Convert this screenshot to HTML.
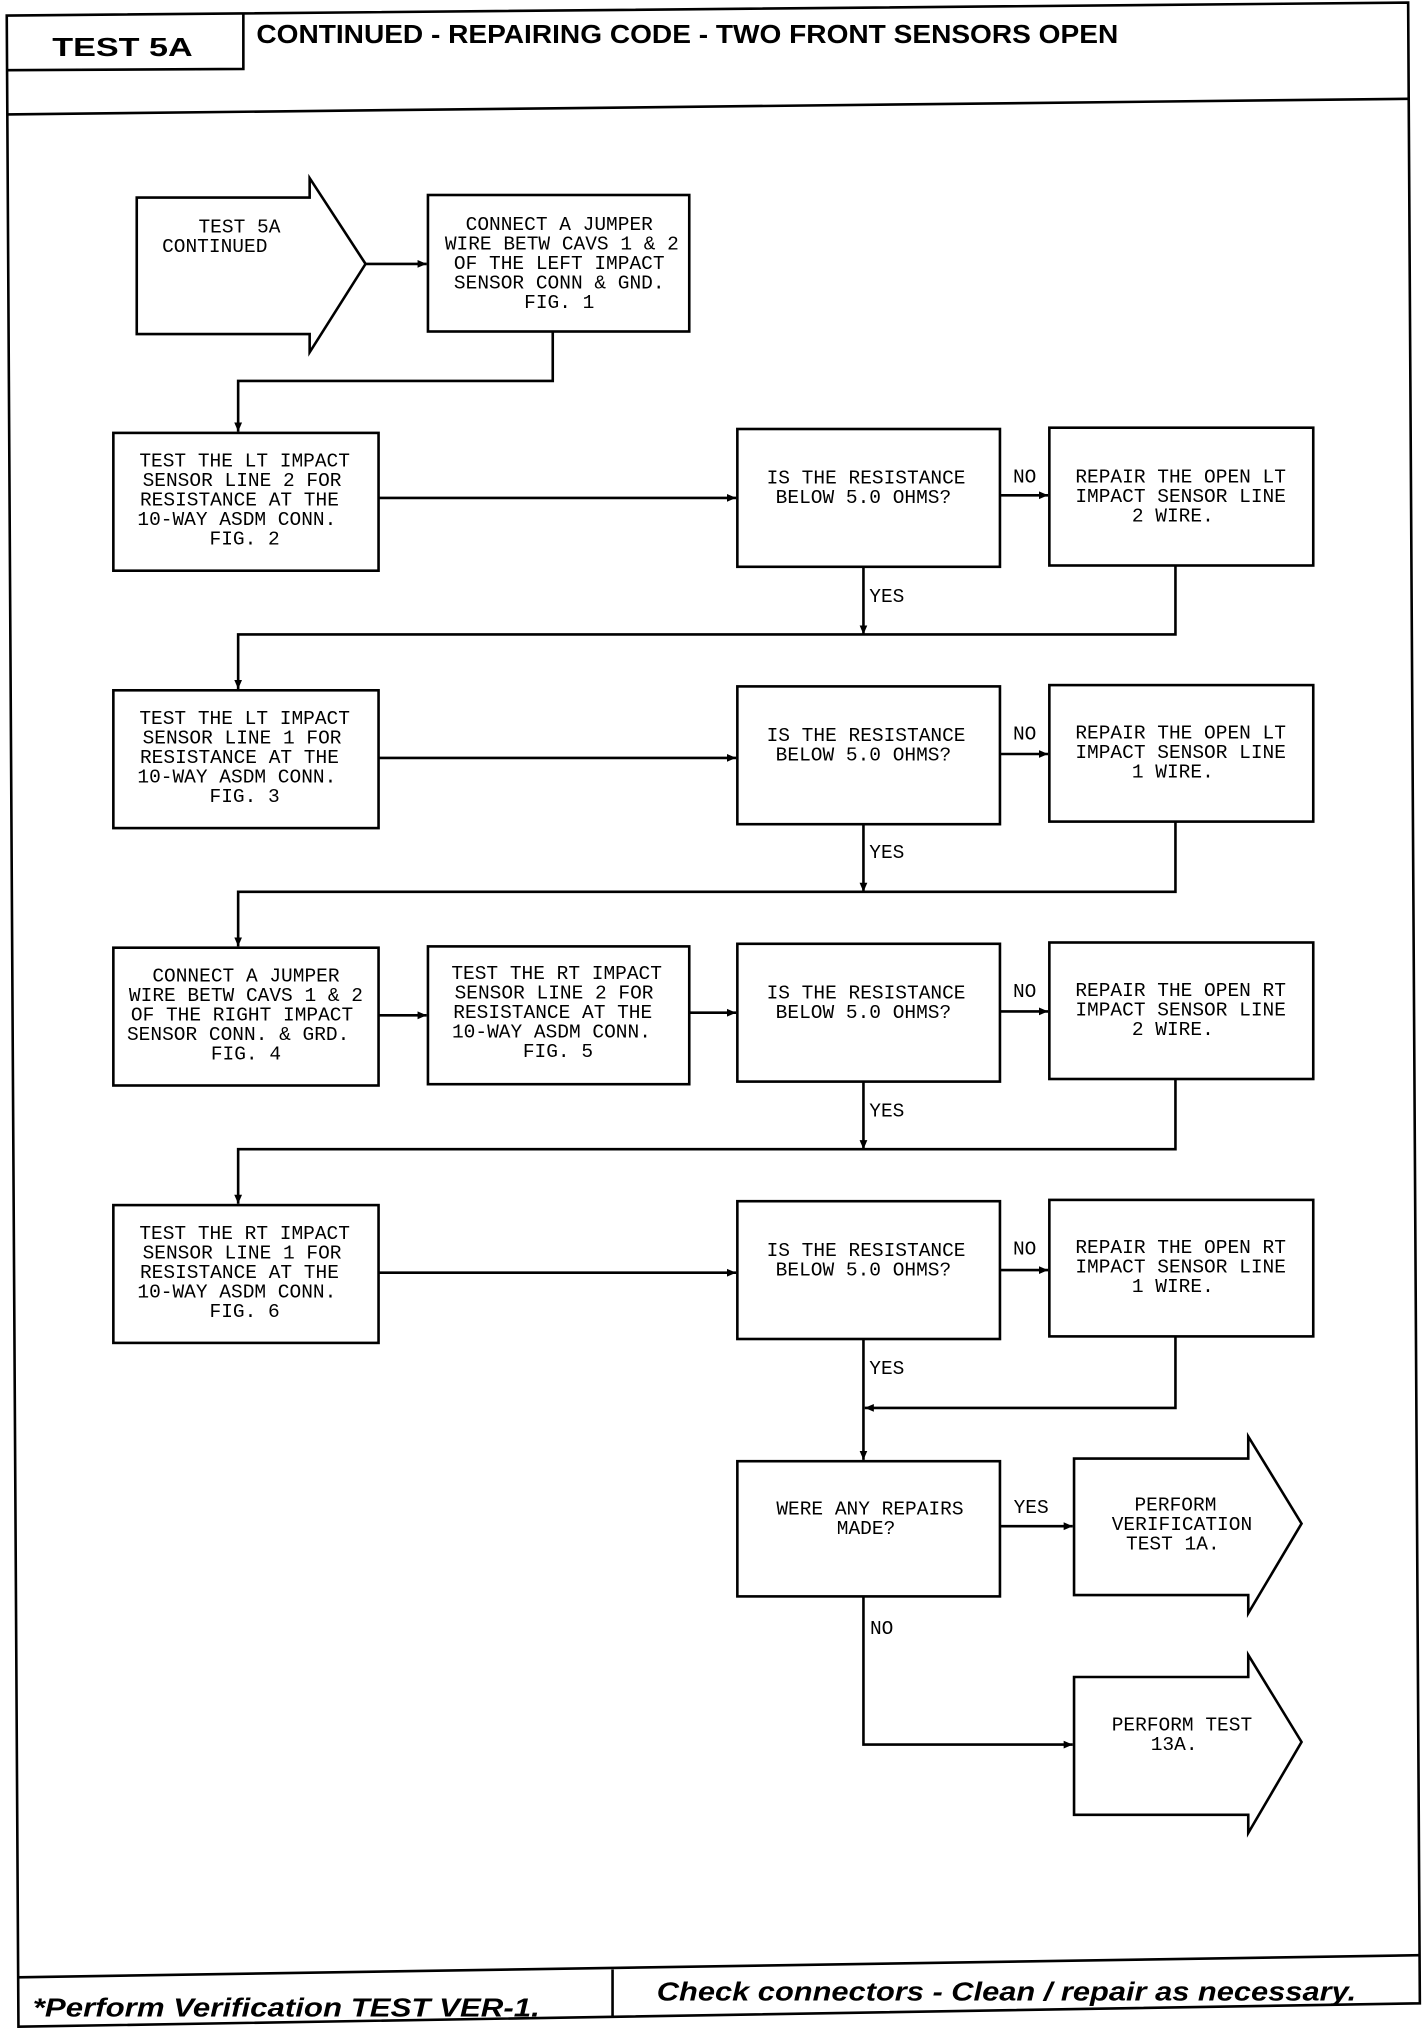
<!DOCTYPE html>
<html><head><meta charset="utf-8"><style>
html,body{margin:0;padding:0;background:#fff;}
svg{display:block}
text{font-family:"Liberation Mono",monospace;font-size:15px;fill:#000;text-anchor:middle}
.h{font-family:"Liberation Sans",sans-serif;font-weight:bold;text-anchor:start}
.f{font-family:"Liberation Sans",sans-serif;font-weight:bold;font-style:italic;text-anchor:start}
</style></head><body>
<svg width="1424" height="2028" viewBox="0 0 1095 1560" xmlns="http://www.w3.org/2000/svg">
<defs><marker id="a" markerWidth="8" markerHeight="8" refX="7" refY="4" orient="auto" markerUnits="userSpaceOnUse"><path d="M0,1 L7,4 L0,7 z" fill="#000"/></marker></defs>
<g stroke="#000" stroke-width="2" fill="none">
<polygon points="5,12 1083,2 1092,1541 14,1559"/>
<line x1="5" y1="88" x2="1083" y2="76"/>
<polyline points="187,11 187,53 5,54"/>
<line x1="14" y1="1521" x2="1092" y2="1504"/>
<line x1="471" y1="1515" x2="471" y2="1552"/>
</g>
<text class="h" transform="translate(40,43) scale(1,1.35)" font-size="22" textLength="108" lengthAdjust="spacingAndGlyphs">TEST 5A</text>
<text class="h" transform="translate(197,33) scale(1,1.35)" font-size="18" textLength="663" lengthAdjust="spacingAndGlyphs">CONTINUED - REPAIRING CODE - TWO FRONT SENSORS OPEN</text>
<text class="f" transform="translate(25,1551) scale(1,1.35)" font-size="19" textLength="390" lengthAdjust="spacingAndGlyphs">*Perform Verification TEST VER-1.</text>
<text class="f" transform="translate(505,1539) scale(1,1.35)" font-size="19" textLength="538" lengthAdjust="spacingAndGlyphs">Check connectors - Clean / repair as necessary.</text>

<g stroke="#000" stroke-width="2" fill="#fff">
<polygon points="105,152 238,152 238,137 281,203 238,271 238,257 105,257"/>
<rect x="329" y="150" width="201" height="105"/>
<rect x="87" y="333" width="204" height="106"/>
<rect x="567" y="330" width="202" height="106"/>
<rect x="807" y="329" width="203" height="106"/>
<rect x="87" y="531" width="204" height="106"/>
<rect x="567" y="528" width="202" height="106"/>
<rect x="807" y="527" width="203" height="105"/>
<rect x="87" y="729" width="204" height="106"/>
<rect x="329" y="728" width="201" height="106"/>
<rect x="567" y="726" width="202" height="106"/>
<rect x="807" y="725" width="203" height="105"/>
<rect x="87" y="927" width="204" height="106"/>
<rect x="567" y="924" width="202" height="106"/>
<rect x="807" y="923" width="203" height="105"/>
<rect x="567" y="1124" width="202" height="104"/>
<polygon points="826,1122 960,1122 960,1105 1001,1172 960,1241 960,1227 826,1227"/>
<polygon points="826,1290 960,1290 960,1273 1001,1340 960,1410 960,1396 826,1396"/>
</g>
<g stroke="#000" stroke-width="2" fill="none" marker-end="url(#a)">
<line x1="281" y1="203" x2="328" y2="203"/>
<polyline points="425,255 425,293 183,293 183,332"/>
<line x1="291" y1="383" x2="566" y2="383"/>
<line x1="769" y1="381" x2="806" y2="381"/>
<line x1="664" y1="436" x2="664" y2="488"/>
<polyline points="904,435 904,488 183,488 183,530"/>
<line x1="291" y1="583" x2="566" y2="583"/>
<line x1="769" y1="580" x2="806" y2="580"/>
<line x1="664" y1="634" x2="664" y2="686"/>
<polyline points="904,632 904,686 183,686 183,728"/>
<line x1="291" y1="781" x2="328" y2="781"/>
<line x1="530" y1="779" x2="566" y2="779"/>
<line x1="769" y1="778" x2="806" y2="778"/>
<line x1="664" y1="832" x2="664" y2="884"/>
<polyline points="904,830 904,884 183,884 183,926"/>
<line x1="291" y1="979" x2="566" y2="979"/>
<line x1="769" y1="977" x2="806" y2="977"/>
<polyline points="904,1028 904,1083 665,1083"/>
<line x1="664" y1="1030" x2="664" y2="1123"/>
<line x1="769" y1="1174" x2="825" y2="1174"/>
<polyline points="664,1228 664,1342 825,1342"/>
</g>
<text x="184" y="179">TEST 5A</text><text x="165" y="194">CONTINUED</text>
<text x="430" y="177">CONNECT A JUMPER</text><text x="432" y="192">WIRE BETW CAVS 1 &amp; 2</text><text x="430" y="207">OF THE LEFT IMPACT</text><text x="430" y="222">SENSOR CONN &amp; GND.</text><text x="430" y="237">FIG. 1</text>
<g>
<text x="188" y="359">TEST THE LT IMPACT</text><text x="186" y="374">SENSOR LINE 2 FOR</text><text x="184" y="389">RESISTANCE AT THE</text><text x="182" y="404">10-WAY ASDM CONN.</text><text x="188" y="419">FIG. 2</text>
<text x="666" y="372">IS THE RESISTANCE</text><text x="664" y="387">BELOW 5.0 OHMS?</text>
<text x="908" y="371">REPAIR THE OPEN LT</text><text x="908" y="386">IMPACT SENSOR LINE</text><text x="902" y="401">2 WIRE.</text>
<text x="788" y="371">NO</text><text x="682" y="463">YES</text>
</g>
<g>
<text x="188" y="557">TEST THE LT IMPACT</text><text x="186" y="572">SENSOR LINE 1 FOR</text><text x="184" y="587">RESISTANCE AT THE</text><text x="182" y="602">10-WAY ASDM CONN.</text><text x="188" y="617">FIG. 3</text>
<text x="666" y="570">IS THE RESISTANCE</text><text x="664" y="585">BELOW 5.0 OHMS?</text>
<text x="908" y="568">REPAIR THE OPEN LT</text><text x="908" y="583">IMPACT SENSOR LINE</text><text x="902" y="598">1 WIRE.</text>
<text x="788" y="569">NO</text><text x="682" y="660">YES</text>
</g>
<g>
<text x="189" y="755">CONNECT A JUMPER</text><text x="189" y="770">WIRE BETW CAVS 1 &amp; 2</text><text x="186" y="785">OF THE RIGHT IMPACT</text><text x="183" y="800">SENSOR CONN. &amp; GRD.</text><text x="189" y="815">FIG. 4</text>
<text x="428" y="753">TEST THE RT IMPACT</text><text x="426" y="768">SENSOR LINE 2 FOR</text><text x="425" y="783">RESISTANCE AT THE</text><text x="424" y="798">10-WAY ASDM CONN.</text><text x="429" y="813">FIG. 5</text>
<text x="666" y="768">IS THE RESISTANCE</text><text x="664" y="783">BELOW 5.0 OHMS?</text>
<text x="908" y="766">REPAIR THE OPEN RT</text><text x="908" y="781">IMPACT SENSOR LINE</text><text x="902" y="796">2 WIRE.</text>
<text x="788" y="767">NO</text><text x="682" y="859">YES</text>
</g>
<g>
<text x="188" y="953">TEST THE RT IMPACT</text><text x="186" y="968">SENSOR LINE 1 FOR</text><text x="184" y="983">RESISTANCE AT THE</text><text x="182" y="998">10-WAY ASDM CONN.</text><text x="188" y="1013">FIG. 6</text>
<text x="666" y="966">IS THE RESISTANCE</text><text x="664" y="981">BELOW 5.0 OHMS?</text>
<text x="908" y="964">REPAIR THE OPEN RT</text><text x="908" y="979">IMPACT SENSOR LINE</text><text x="902" y="994">1 WIRE.</text>
<text x="788" y="965">NO</text><text x="682" y="1057">YES</text>
</g>
<text x="669" y="1165">WERE ANY REPAIRS</text><text x="666" y="1180">MADE?</text>
<text x="793" y="1164">YES</text><text x="678" y="1257">NO</text>
<text x="904" y="1162">PERFORM</text><text x="909" y="1177">VERIFICATION</text><text x="902" y="1192">TEST 1A.</text>
<text x="909" y="1331">PERFORM TEST</text><text x="903" y="1346">13A.</text>
</svg>
</body></html>
